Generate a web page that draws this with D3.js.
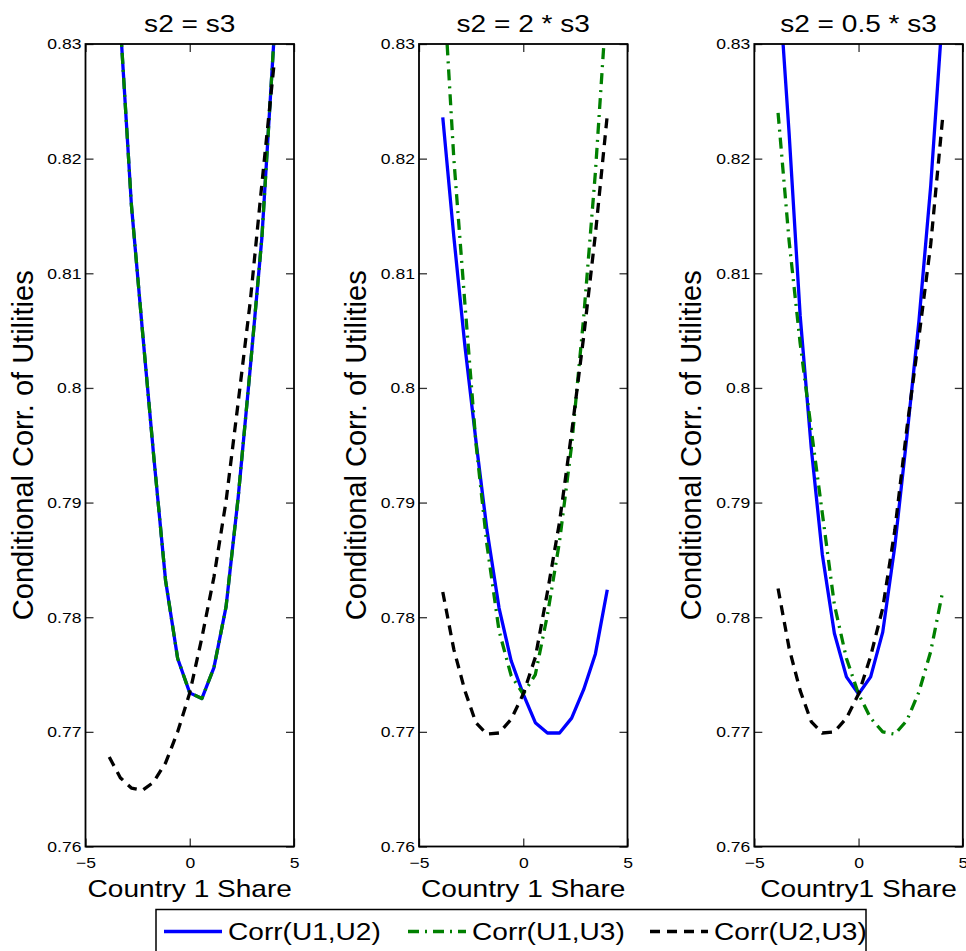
<!DOCTYPE html>
<html>
<head>
<meta charset="utf-8">
<script src="https://cdn.jsdelivr.net/npm/d3@7"></script>
<style>
  html, body { margin: 0; padding: 0; background: #fff; }
  text { font-family: "Liberation Sans", Arial, Helvetica, sans-serif; fill: #000; }
</style>
</head>
<body>
<svg id="chart" width="966" height="951"></svg>
<script>
// ---------------- data ----------------
const xGrid = [-3.86, -3.33, -2.8, -2.27, -1.74, -1.16, -0.58, 0, 0.58, 1.16, 1.74, 2.32, 2.9, 3.46, 4.03];

const panelTitles = ["s2 = s3", "s2 = 2 * s3", "s2 = 0.5 * s3"];
const xAxisLabels = ["Country 1 Share", "Country 1 Share", "Country1 Share"];
const yAxisLabel = "Conditional Corr. of Utilities";
const seriesNames = ["Corr(U1,U2)", "Corr(U1,U3)", "Corr(U2,U3)"];

// panel 1: s2 = s3
const p1_U1U2 = [0.851, 0.8318, 0.8160, 0.8050, 0.7943, 0.7832, 0.7764, 0.7734, 0.7729, 0.7756, 0.7809, 0.7904, 0.8017, 0.8131, 0.8302];
const p1_U1U3 = [0.851, 0.8318, 0.8160, 0.8050, 0.7943, 0.7832, 0.7764, 0.7734, 0.7729, 0.7756, 0.7809, 0.7904, 0.8017, 0.8131, 0.8302];
const p1_U2U3 = [0.7678, 0.7660, 0.7651, 0.7649, 0.7656, 0.7673, 0.7700, 0.7734, 0.7782, 0.7835, 0.7901, 0.7987, 0.8075, 0.8178, 0.8280];

// panel 2: s2 = 2 * s3
const p2_U1U2 = [0.8236, 0.8132, 0.8037, 0.7954, 0.7876, 0.7808, 0.7762, 0.7733, 0.7708, 0.7699, 0.7699, 0.7712, 0.7737, 0.7768, 0.7824];
const p2_U1U3 = [0.8365, 0.8200, 0.8074, 0.7952, 0.7863, 0.7788, 0.7749, 0.7733, 0.7750, 0.7802, 0.7866, 0.7950, 0.8062, 0.8188, 0.8345];
const p2_U2U3 = [0.7822, 0.7772, 0.7736, 0.7708, 0.7698, 0.7699, 0.7711, 0.7733, 0.7765, 0.7822, 0.7883, 0.7961, 0.8045, 0.8134, 0.8238];

// panel 3: s2 = 0.5 * s3
const p3_U1U2 = [0.8365, 0.8222, 0.8063, 0.7948, 0.7855, 0.7786, 0.7748, 0.7733, 0.7748, 0.7787, 0.7862, 0.7958, 0.8059, 0.8176, 0.8327];
const p3_U1U3 = [0.8240, 0.8128, 0.8039, 0.7964, 0.7891, 0.7811, 0.7764, 0.7733, 0.7712, 0.7700, 0.7698, 0.7710, 0.7735, 0.7770, 0.7822];
const p3_U2U3 = [0.7825, 0.7773, 0.7736, 0.7709, 0.7699, 0.7700, 0.7712, 0.7733, 0.7766, 0.7808, 0.7876, 0.7965, 0.8045, 0.8125, 0.8235];

const yTicks = [0.76, 0.77, 0.78, 0.79, 0.80, 0.81, 0.82, 0.83];
const yTickLabels = ["0.76", "0.77", "0.78", "0.79", "0.8", "0.81", "0.82", "0.83"];
const xTicks = [-5, 0, 5];
const xTickLabels = ["\u22125", "0", "5"];

// ---------------- layout ----------------
const panelLefts = [85.5, 419, 754.3];
const panelW = 208.5;
const plotTop = 44, plotBottom = 846.5;
const STRETCH = 1.17;

const seriesStyles = [
  { color: "#0000ff", dash: null },
  { color: "#008000", dash: "11,6,2,6" },
  { color: "#000000", dash: "10,7" }
];

const panelSeries = [
  [p1_U1U2, p1_U1U3, p1_U2U3],
  [p2_U1U2, p2_U1U3, p2_U2U3],
  [p3_U1U2, p3_U1U3, p3_U2U3]
];

const svg = d3.select("#chart");

function stretchedText(parent, x, y, str, size, anchor) {
  const g = parent.append("g").attr("transform", `translate(${x},${y}) scale(${STRETCH},1)`);
  g.append("text").attr("text-anchor", anchor || "middle").attr("font-size", size).text(str);
  return g;
}

const y = d3.scaleLinear().domain([0.76, 0.83]).range([plotBottom, plotTop]);

panelSeries.forEach((series, pi) => {
  const left = panelLefts[pi];
  const x = d3.scaleLinear().domain([-5, 5]).range([left, left + panelW]);

  const clipId = "clip" + pi;
  svg.append("clipPath").attr("id", clipId)
    .append("rect").attr("x", left).attr("y", plotTop)
    .attr("width", panelW).attr("height", plotBottom - plotTop);

  // lines
  const gLines = svg.append("g").attr("clip-path", `url(#${clipId})`);
  const line = d3.line().x((d, i) => x(xGrid[i])).y(d => y(d));
  series.forEach((vals, si) => {
    const st = seriesStyles[si];
    gLines.append("path")
      .attr("d", line(vals))
      .attr("fill", "none")
      .attr("stroke", st.color)
      .attr("stroke-width", 3.3)
      .attr("stroke-linejoin", "round")
      .attr("stroke-dasharray", st.dash);
  });

  // axes (ticks inward)
  const axL = svg.append("g").attr("transform", `translate(${left},0)`)
    .call(d3.axisLeft(y).tickValues(yTicks).tickSize(-8).tickPadding(4)
      .tickFormat((d, i) => yTickLabels[i]));
  const axR = svg.append("g").attr("transform", `translate(${left + panelW},0)`)
    .call(d3.axisRight(y).tickValues(yTicks).tickSize(-8).tickFormat(""));
  const axB = svg.append("g").attr("transform", `translate(0,${plotBottom})`)
    .call(d3.axisBottom(x).tickValues(xTicks).tickSize(-8).tickPadding(11)
      .tickFormat((d, i) => xTickLabels[i]));
  const axT = svg.append("g").attr("transform", `translate(0,${plotTop})`)
    .call(d3.axisTop(x).tickValues(xTicks).tickSize(-8).tickFormat(""));

  [axL, axR, axB, axT].forEach(a => {
    a.select(".domain").remove();
    a.selectAll(".tick line").attr("stroke", "#333").attr("stroke-width", 1.3);
    a.selectAll(".tick text")
      .attr("font-size", 15)
      .attr("font-family", '"Liberation Sans", Arial, sans-serif')
      .attr("fill", "#000")
      .attr("transform", `scale(${STRETCH},1)`);
  });
  axL.selectAll(".tick text").attr("x", -4 / STRETCH);

  // box
  svg.append("rect")
    .attr("x", left).attr("y", plotTop)
    .attr("width", panelW).attr("height", plotBottom - plotTop)
    .attr("fill", "none").attr("stroke", "#000").attr("stroke-width", 1.8);

  // title
  stretchedText(svg, left + panelW / 2, 32, panelTitles[pi], 24);
  // x label
  stretchedText(svg, left + panelW / 2, 897, xAxisLabels[pi], 24);
  // y label
  svg.append("text")
    .attr("transform", `translate(${left - 53},${(plotTop + plotBottom) / 2}) rotate(-90)`)
    .attr("text-anchor", "middle")
    .attr("font-size", 29)
    .text(yAxisLabel);
});

// ---------------- legend ----------------
const legend = svg.append("g");
legend.append("rect")
  .attr("x", 156).attr("y", 909.5).attr("width", 710).attr("height", 60)
  .attr("fill", "#fff").attr("stroke", "#000").attr("stroke-width", 1.5);

const legendItemX = [164, 408, 650];
seriesNames.forEach((name, i) => {
  const st = seriesStyles[i];
  const lx = legendItemX[i];
  legend.append("line")
    .attr("x1", lx).attr("x2", lx + 58)
    .attr("y1", 931.5).attr("y2", 931.5)
    .attr("stroke", st.color).attr("stroke-width", 3.3)
    .attr("stroke-dasharray", st.dash);
  stretchedText(legend, lx + 64, 940, name, 24, "start");
});
</script>
</body>
</html>
